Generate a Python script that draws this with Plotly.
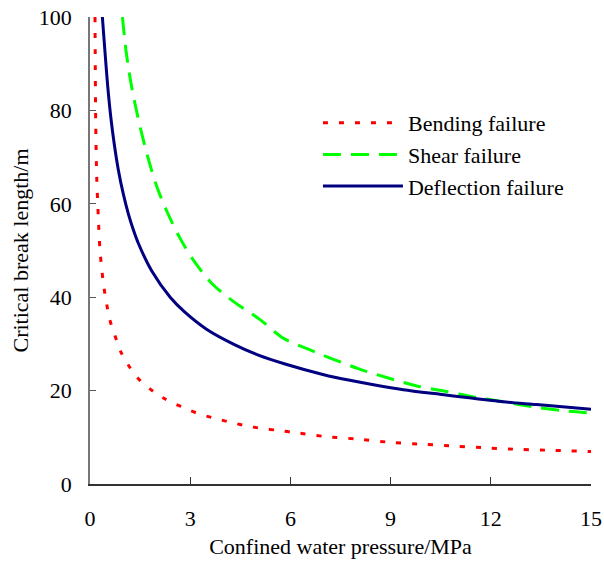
import plotly.graph_objects as go

# Bending failure (red dotted)
bend_x = [0.15, 0.17, 0.2, 0.25, 0.3, 0.4, 0.5, 0.6, 0.75, 0.93, 1.18, 1.48, 1.88, 2.25, 2.72,
          3.19, 3.66, 4.16, 4.64, 5.14, 5.62, 6.14, 7.0, 8.03, 9.03, 10.0, 10.96, 11.96, 12.9,
          13.9, 15.0]
bend_y = [100, 78, 66, 57, 50, 43, 38.5, 35, 31.7, 28.2, 25.1, 22.3, 19.9, 18.2, 16.6,
          15.2, 14.2, 13.3, 12.5, 11.9, 11.5, 11.0, 10.2, 9.6, 8.9, 8.5, 8.1, 7.7, 7.4,
          7.2, 6.95]

# Shear failure (green dashed)
shear_x = [0.97, 1.08, 1.21, 1.36, 1.55, 1.75, 1.98, 2.3, 2.69, 3.09, 3.64, 4.29, 5.09, 5.79,
           6.59, 8.03, 8.88, 9.78, 10.68, 11.53, 12.37, 13.37, 14.27, 15.0]
shear_y = [100, 92.7, 86.5, 81.0, 75.0, 69.5, 64.1, 58.4, 52.7, 48.0, 43.0, 39.1, 35.2, 31.2,
           28.7, 24.7, 22.8, 21.0, 19.8, 18.6, 17.6, 16.4, 15.6, 15.2]

# Deflection failure (navy solid)
defl_x = [0.37, 0.45, 0.53, 0.63, 0.73, 0.85, 1.0, 1.15, 1.3, 1.45, 1.85, 2.4, 2.84, 3.5,
          4.34, 5.04, 5.84, 7.0, 7.78, 8.53, 9.38, 10.48, 11.28, 12.37, 13.37, 15.0]
defl_y = [100, 92.4, 85.2, 78.1, 72.6, 67.2, 62.0, 57.8, 54.4, 51.5, 45.6, 40.0, 36.8, 33.1,
          29.8, 27.6, 25.7, 23.4, 22.2, 21.2, 20.2, 19.2, 18.5, 17.6, 17.0, 16.0]

x_ticks = [0, 3, 6, 9, 12, 15]
y_ticks = [0, 20, 40, 60, 80, 100]

FONT = "Liberation Serif"

fig = go.Figure()
fig.add_trace(go.Scatter(x=bend_x, y=bend_y, mode="lines", name="Bending failure",
                         line=dict(color="#FF0000", width=3, dash="5px,11px",
                                   shape="spline", smoothing=0.8)))
fig.add_trace(go.Scatter(x=shear_x, y=shear_y, mode="lines", name="Shear failure",
                         line=dict(color="#00FF00", width=3, dash="18px,10px",
                                   shape="spline", smoothing=0.8)))
fig.add_trace(go.Scatter(x=defl_x, y=defl_y, mode="lines", name="Deflection failure",
                         line=dict(color="#000080", width=3, shape="spline", smoothing=0.8)))

fig.update_layout(
    width=604, height=565,
    margin=dict(l=90, r=13, t=17, b=81),
    paper_bgcolor="white", plot_bgcolor="white",
    font=dict(family=FONT, size=22, color="black"),
    showlegend=True,
    legend=dict(x=0.455, y=0.818, xanchor="left", yanchor="top",
                bgcolor="rgba(0,0,0,0)", font=dict(family=FONT, size=22),
                itemwidth=80, tracegroupgap=0),
)
fig.update_xaxes(range=[0, 15], tickvals=x_ticks, ticktext=[str(v) for v in x_ticks],
                 showgrid=False, zeroline=False, showline=True, linecolor="#333333",
                 linewidth=1.5, ticks="inside", ticklen=7, tickcolor="#333333",
                 ticklabelstandoff=14, automargin=False,
                 tickfont=dict(family=FONT, size=22),
                 title=dict(text="Confined water pressure/MPa", standoff=8,
                            font=dict(family=FONT, size=22)))
fig.update_yaxes(range=[0, 100], tickvals=y_ticks, ticktext=[str(v) for v in y_ticks],
                 showgrid=False, zeroline=False, showline=True, linecolor="#777777",
                 linewidth=1.5, ticks="inside", ticklen=6, tickcolor="#555555",
                 ticklabelstandoff=12, automargin=False,
                 tickfont=dict(family=FONT, size=22),
                 title=dict(text="Critical break length/m", standoff=4,
                            font=dict(family=FONT, size=22)))

fig.write_html("out.html", config={"displayModeBar": False},
               post_script="document.body.style.margin='0px';")
